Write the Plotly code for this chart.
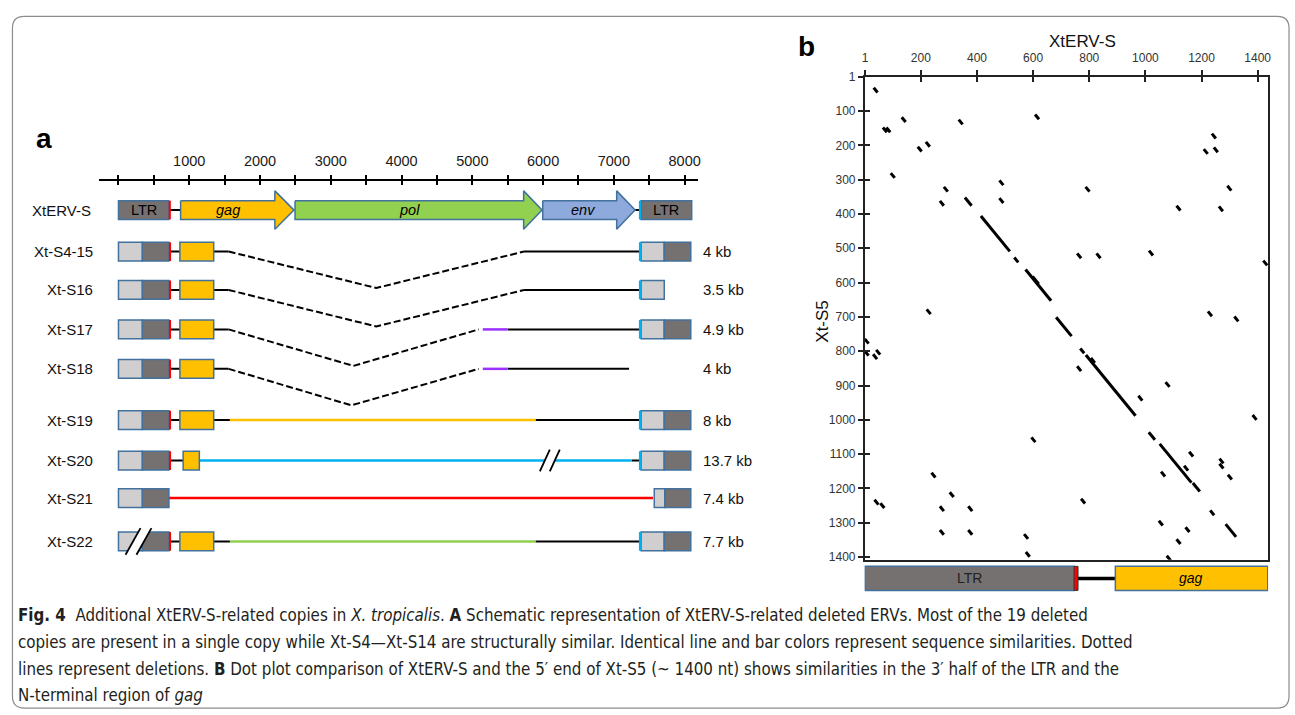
import plotly.graph_objects as go

W, H = 1295, 715
FONT = "Liberation Sans, Arial, sans-serif"
CAP_FONT = "DejaVu Sans Condensed, Liberation Sans, sans-serif"

# ---------------- panel a data ----------------
ROW_NAMES = ["XtERV-S", "Xt-S4-15", "Xt-S16", "Xt-S17", "Xt-S18",
             "Xt-S19", "Xt-S20", "Xt-S21", "Xt-S22"]
ROW_SIZES = ["", "4 kb", "3.5 kb", "4.9 kb", "4 kb", "8 kb", "13.7 kb", "7.4 kb", "7.7 kb"]
SCALE_TICKS = list(range(0, 8001, 500))
SCALE_LABELS = [str(v) if (v % 1000 == 0 and v > 0) else "" for v in SCALE_TICKS]

# full-length XtERV-S (bp)
ORF_NAMES = ["gag", "pol", "env"]
ORF_START = [878, 2495, 5995]
ORF_BODY_END = [2210, 5725, 7040]
ORF_TIP = [2480, 5985, 7300]
LTR5_FULL = [0, 710]
LTR3_FULL = [7384, 8100]

# deleted copies (rows 1..8)
LTR5_LIGHT = [0, 338]
LTR5_DARK = [338, 713]
LTR5_RED = [1, 1, 1, 1, 1, 1, 0, 1]
GAG_START = [868, 868, 868, 868, 868, 914, None, 868]
GAG_END = [1346, 1346, 1346, 1346, 1346, 1143, None, 1346]
DEL_START = [1557, 1557, 1557, 1557]          # rows 1-4
DEL_BOTTOM = [3643, 3643, 3319, 3291]
DEL_END = [5729, 5729, 5091, 5091]
SEG_ROW = [1, 1, 1, 2, 2, 2, 3, 3, 3, 3, 4, 4, 4, 4, 5, 5, 5, 5, 6, 6, 6, 7, 8, 8, 8, 8]
SEG_START = [713, 1346, 5729, 713, 1346, 5729, 713, 1346, 5148, 5499, 713, 1346, 5148, 5499,
             713, 1346, 1575, 5893, 713, 1143, 7253, 713, 713, 1346, 1575, 5893]
SEG_END = [868, 1557, 7370, 868, 1557, 7370, 868, 1557, 5499, 7370, 868, 1557, 5499, 7215,
           868, 1575, 5893, 7370, 914, 7253, 7370, 7553, 868, 1575, 5893, 7370]
SEG_COLOR = ["k", "k", "k", "k", "k", "k", "k", "k", "p", "k", "k", "k", "p", "k",
             "k", "k", "y", "k", "k", "c", "k", "r", "k", "k", "g", "k"]
LTR3_LIGHT_START = [7384, 7384, 7384, None, 7384, 7384, 7571, 7384]
LTR3_LIGHT_END = [7712, 7712, 7712, None, 7712, 7712, 7721, 7712]
LTR3_DARK_START = [7712, None, 7712, None, 7712, 7712, 7721, 7712]
LTR3_DARK_END = [8087, None, 8087, None, 8087, 8087, 8087, 8087]
LTR3_CYAN = [1, 1, 1, 0, 1, 1, 0, 1]
BREAK_ROWS = [6, 8]
BREAK_BP = [6095, 283]

# ---------------- panel b data ----------------
B_XTICKS = [1, 200, 400, 600, 800, 1000, 1200, 1400]
B_YTICKS = [1] + list(range(100, 1401, 100))
DOT_X = [357, 414, 533, 573, 598, 682, 768, 788, 806, 1012, 1051, 1169, 1286,
         32, 132, 65, 77, 335, 607, 189, 218, 93, 282, 268, 480, 480, 787, 757, 826, 1013,
         1111, 1237, 1208, 1244, 1292, 1262, 1420, 221, 1223, 1317, 0, 0, 30, 41, 757, 975,
         1072, 1382, 594, 1156, 1056, 1138, 1264, 1264, 1294, 238, 303, 35, 56, 268, 369,
         268, 369, 771, 568, 574, 1231, 1048, 1143, 1111, 1076]
DOT_Y = [352, 406, 527, 562, 582, 701, 792, 811, 820, 1036, 1070, 1184, 1304,
         32, 118, 148, 148, 125, 110, 204, 190, 281, 321, 362, 302, 354, 321, 515, 515, 507,
         376, 166, 211, 206, 318, 378, 536, 678, 684, 699, 764, 799, 809, 796, 844, 930,
         890, 986, 1051, 1093, 1151, 1134, 1113, 1128, 1160, 1154, 1211, 1233, 1243, 1252, 1252,
         1321, 1321, 1230, 1333, 1385, 1264, 1294, 1313, 1348, 1396]
DOT_LEN = [24, 103, 14, 91, 22, 55, 14, 177, 14, 22, 113, 25, 37] + [14] * 58
B_LTR = [0, 746]
B_RED = [746, 760]
B_GAG = [893, 1436]

CAPTION = [
    "<b>Fig. 4</b>  Additional XtERV-S-related copies in <i>X. tropicalis</i>. <b>A</b> Schematic representation of XtERV-S-related deleted ERVs. Most of the 19 deleted",
    "copies are present in a single copy while Xt-S4\u2014Xt-S14 are structurally similar. Identical line and bar colors represent sequence similarities. Dotted",
    "lines represent deletions. <b>B</b> Dot plot comparison of XtERV-S and the 5\u2032 end of Xt-S5 (~ 1400 nt) shows similarities in the 3\u2032 half of the LTR and the",
    "N-terminal region of <i>gag</i>",
]

# ---------------- styles / layout geometry ----------------
C_LIGHT, C_DARK = "#D0CECE", "#767171"
C_BORDER = "#41719C"
ORF_COLORS = ["#FFC000", "#92D050", "#8EA9DB"]
LINE_COLORS = {"k": "black", "p": "#9B30FF", "y": "#FFC000", "c": "#00B0F0",
               "r": "#FF0000", "g": "#92D050"}
ROW_Y = [207, 249, 288, 328, 368, 420, 461, 499, 543]   # pixel rows
HB, HA = 9.5, 19.5      # half height box / arrow head
DEPTH = 37
A_L, A_R, A_T, A_B = 96, 698, 177.7, 566
PX_PER_BP = 0.0711
AX_RANGE = [(A_L - 116) / PX_PER_BP, (A_R - 116) / PX_PER_BP]
BPP = 1 / PX_PER_BP
B_L, B_R, B_T, B_B = 865.7, 1271, 71.7, 561.7
BX_RANGE = [0, (B_R - B_L) / 0.282]
BY_RANGE = [(B_B - B_T) / 0.348, 0]

fig = go.Figure()
shapes = []


def rect(x0, x1, yc, fill, xref="x", yref="y", h=HB, lw=1.5, lc=C_BORDER):
    shapes.append(dict(type="rect", xref=xref, yref=yref, x0=x0, x1=x1, y0=yc - h, y1=yc + h,
                       fillcolor=fill, line=dict(color=lc, width=lw), layer="above"))


# ----- full-length XtERV-S -----
y0 = ROW_Y[0]
fig.add_trace(go.Scatter(x=[LTR5_FULL[1], ORF_START[0], None, ORF_TIP[2], LTR3_FULL[0]],
                         y=[y0, y0, None, y0, y0], mode="lines",
                         line=dict(color="black", width=2), hoverinfo="skip"))
for s, be, t, col in zip(ORF_START, ORF_BODY_END, ORF_TIP, ORF_COLORS):
    fig.add_trace(go.Scatter(
        x=[s, be, be, t, be, be, s, s],
        y=[y0 - HB, y0 - HB, y0 - HA, y0, y0 + HA, y0 + HB, y0 + HB, y0 - HB],
        mode="lines", fill="toself", fillcolor=col,
        line=dict(color=C_BORDER, width=1.5), hoverinfo="skip"))
rect(LTR5_FULL[0], LTR5_FULL[1], y0, C_DARK)
rect(LTR5_FULL[1], LTR5_FULL[1] + 30, y0, "#FF0000", lw=0)
rect(LTR3_FULL[0], LTR3_FULL[1], y0, C_DARK)
rect(LTR3_FULL[0] - 30, LTR3_FULL[0], y0, "#00B0F0", lw=0)

# ----- deleted copies -----
for i in range(8):
    r = i + 1
    yc = ROW_Y[r]
    rect(LTR5_LIGHT[0], LTR5_LIGHT[1], yc, C_LIGHT)
    rect(LTR5_DARK[0], LTR5_DARK[1], yc, C_DARK)
    if LTR5_RED[i]:
        rect(LTR5_DARK[1], LTR5_DARK[1] + 30, yc, "#FF0000", lw=0)
    if GAG_START[i] is not None:
        rect(GAG_START[i], GAG_END[i], yc, "#FFC000")
    if LTR3_LIGHT_START[i] is not None:
        rect(LTR3_LIGHT_START[i], LTR3_LIGHT_END[i], yc, C_LIGHT)
    if LTR3_DARK_START[i] is not None:
        rect(LTR3_DARK_START[i], LTR3_DARK_END[i], yc, C_DARK)
    if LTR3_CYAN[i]:
        rect(LTR3_LIGHT_START[i] - 30, LTR3_LIGHT_START[i], yc, "#00B0F0", lw=0)

# connecting lines
for key, col in LINE_COLORS.items():
    xs, ys = [], []
    for r, s, e, c in zip(SEG_ROW, SEG_START, SEG_END, SEG_COLOR):
        if c == key:
            xs += [s, e, None]
            ys += [ROW_Y[r], ROW_Y[r], None]
    if xs:
        fig.add_trace(go.Scatter(x=xs, y=ys, mode="lines", hoverinfo="skip",
                                 line=dict(color=col, width=2 if key == "k" else 2.5)))
# deletions
xs, ys = [], []
for i, (s, b, e) in enumerate(zip(DEL_START, DEL_BOTTOM, DEL_END)):
    yc = ROW_Y[i + 1]
    xs += [s, b, e, None]
    ys += [yc, yc + DEPTH, yc, None]
fig.add_trace(go.Scatter(x=xs, y=ys, mode="lines", hoverinfo="skip",
                         line=dict(color="black", width=2, dash="7px,3px")))

# break marks
for r, bp in zip(BREAK_ROWS, BREAK_BP):
    yc = ROW_Y[r]
    hh = 11 if r == 6 else 13.5
    lean = 5 if r == 6 else 7.5
    sep = 10 if r == 6 else 11
    xa = bp - sep / 2 * BPP
    xb = bp + sep / 2 * BPP
    pts = [(xa - lean * BPP, yc + hh), (xa + lean * BPP, yc - hh),
           (xb + lean * BPP, yc - hh), (xb - lean * BPP, yc + hh)]
    path = "M " + " L ".join(f"{x},{y}" for x, y in pts) + " Z"
    shapes.append(dict(type="path", xref="x", yref="y", path=path, fillcolor="white",
                       line=dict(width=0), layer="above"))
    for xm in (xa, xb):
        shapes.append(dict(type="line", xref="x", yref="y", x0=xm - lean * BPP, y0=yc + hh,
                           x1=xm + lean * BPP, y1=yc - hh,
                           line=dict(color="black", width=1.8), layer="above"))

# ----- panel b dot plot -----
dx, dy = [], []
for x, y, L in zip(DOT_X, DOT_Y, DOT_LEN):
    dx += [x, x + L, None]
    dy += [y, y + L, None]
fig.add_trace(go.Scatter(x=dx, y=dy, mode="lines", xaxis="x2", yaxis="y2",
                         line=dict(color="black", width=3), hoverinfo="skip"))
fig.add_trace(go.Scatter(x=[None], y=[None], xaxis="x3", yaxis="y", showlegend=False))
fig.add_trace(go.Scatter(x=[None], y=[None], xaxis="x4", yaxis="y2", showlegend=False))
fig.add_trace(go.Scatter(x=[None], y=[None], xaxis="x2", yaxis="y4", showlegend=False))
fig.add_trace(go.Scatter(x=[None], y=[None], xaxis="x5", yaxis="y5", showlegend=False))

# bottom bar of panel b
shapes.append(dict(type="line", xref="x5", yref="y5", x0=B_RED[1], x1=B_GAG[0], y0=0.5, y1=0.5,
                   line=dict(color="black", width=3.5), layer="above"))
rect(B_LTR[0], B_LTR[1], 0.5, C_DARK, xref="x5", yref="y5", h=0.42)
rect(B_RED[0], B_RED[1], 0.5, "#FF0000", xref="x5", yref="y5", h=0.42, lw=1, lc="#333")
rect(B_GAG[0], B_GAG[1], 0.5, "#FFC000", xref="x5", yref="y5", h=0.42)

# ----- annotations -----
ann = []


def text(x, y, s, size=15, xanchor="center", xref="paper", yref="paper", color="black",
         italic=False, font=FONT, angle=0):
    if xref == "paper":
        x = x / W
    if yref == "paper":
        y = 1 - y / H
    ann.append(dict(x=x, y=y, xref=xref, yref=yref, text=(f"<i>{s}</i>" if italic else s),
                    showarrow=False, xanchor=xanchor, yanchor="middle", textangle=angle,
                    font=dict(size=size, color=color, family=font)))


for i, (n, s) in enumerate(zip(ROW_NAMES, ROW_SIZES)):
    text(90 if i == 0 else 92.5, ROW_Y[i], n, size=15, xanchor="right", color="#111")
    if s:
        text(701, ROW_Y[i], s, size=15, xanchor="left", color="#111")
text(355, ROW_Y[0], "LTR", 14.5, xref="x", yref="y")
text(7742, ROW_Y[0], "LTR", 14.5, xref="x", yref="y")
for n, s, be in zip(ORF_NAMES, ORF_START, ORF_BODY_END):
    text((s + be) / 2 + (40 if n == "env" else 0), ROW_Y[0], n, 14.5, xref="x", yref="y",
         italic=True)
text(373, 0.5, "LTR", 14, xref="x5", yref="y5", color="#222")
text(1164, 0.5, "gag", 14, xref="x5", yref="y5", italic=True)
text(41, 134.5, "<b>a</b>", 28)
text(807, 41, "<b>b</b>", 28)
text(1085, 36, "XtERV-S", 17, color="#111")
text(823, 320, "Xt-S5", 17, angle=-90, color="#111")
for k, line in enumerate(CAPTION):
    text(13, 618 + 27 * k, line, 16.8, xanchor="left", color="#231F20", font=CAP_FONT)

# border
L_, T_, R_, B_, rr = 9.5, 10.5, 1292, 712, 12


def P(x, y):
    return f"{x / W},{1 - y / H}"


border = (f"M {P(L_ + rr, T_)} L {P(R_ - rr, T_)} Q {P(R_, T_)} {P(R_, T_ + rr)} "
          f"L {P(R_, B_ - rr)} Q {P(R_, B_)} {P(R_ - rr, B_)} L {P(L_ + rr, B_)} "
          f"Q {P(L_, B_)} {P(L_, B_ - rr)} L {P(L_, T_ + rr)} Q {P(L_, T_)} {P(L_ + rr, T_)} Z")
shapes.append(dict(type="path", xref="paper", yref="paper", path=border,
                   line=dict(color="#8C8C8C", width=1.2), layer="below"))

tickfont_a = dict(size=14.5, family=FONT, color="#1a1a1a")
tickfont_b = dict(size=12, family=FONT, color="#333")
common = dict(showgrid=False, zeroline=False, fixedrange=True)
fig.update_layout(
    width=W, height=H, margin=dict(l=0, r=0, t=0, b=0),
    paper_bgcolor="white", plot_bgcolor="rgba(0,0,0,0)", showlegend=False,
    shapes=shapes, annotations=ann,
    xaxis=dict(domain=[A_L / W, A_R / W], range=AX_RANGE, side="top", anchor="y",
               showline=True, linecolor="black", linewidth=1.5, ticks="outside", ticklen=4,
               tickwidth=1.5, tickcolor="black", tickvals=SCALE_TICKS, ticktext=SCALE_LABELS,
               tickfont=tickfont_a, ticklabelstandoff=4, **common),
    xaxis3=dict(overlaying="x", anchor="y", side="top", range=AX_RANGE, ticks="inside",
                ticklen=4, tickwidth=1.5, tickcolor="black", tickvals=SCALE_TICKS,
                showticklabels=False, showline=False, **common),
    yaxis=dict(domain=[1 - A_B / H, 1 - A_T / H], range=[A_B, A_T], visible=False,
               anchor="x", **common),
    xaxis2=dict(domain=[B_L / W, B_R / W], range=BX_RANGE, side="top", anchor="y2",
                showline=True, mirror=True, linecolor="#222", linewidth=1.5,
                ticks="outside", ticklen=5, tickwidth=1.5, tickcolor="#222",
                tickvals=B_XTICKS, tickfont=tickfont_b, ticklabelstandoff=3, **common),
    xaxis4=dict(overlaying="x2", anchor="y2", side="top", range=BX_RANGE, ticks="inside",
                ticklen=5, tickwidth=1.5, tickcolor="#222", tickvals=B_XTICKS,
                showticklabels=False, showline=False, **common),
    yaxis2=dict(domain=[1 - B_B / H, 1 - B_T / H], range=BY_RANGE, anchor="x2", side="left",
                showline=True, mirror=True, linecolor="#222", linewidth=1.5,
                ticks="outside", ticklen=5, tickwidth=1.5, tickcolor="#222",
                tickvals=B_YTICKS, tickfont=tickfont_b, **common),
    yaxis4=dict(overlaying="y2", anchor="x2", side="left", range=BY_RANGE, ticks="inside",
                ticklen=5, tickwidth=1.5, tickcolor="#222", tickvals=B_YTICKS,
                showticklabels=False, showline=False, **common),
    xaxis5=dict(domain=[B_L / W, B_R / W], range=BX_RANGE, anchor="y5", visible=False, **common),
    yaxis5=dict(domain=[1 - 595 / H, 1 - 566 / H], range=[1, 0], anchor="x5", visible=False,
                **common),
)
fig.write_html("out.html", config={"displayModeBar": False},
               post_script="document.body.style.margin='0';document.body.style.padding='0';")
